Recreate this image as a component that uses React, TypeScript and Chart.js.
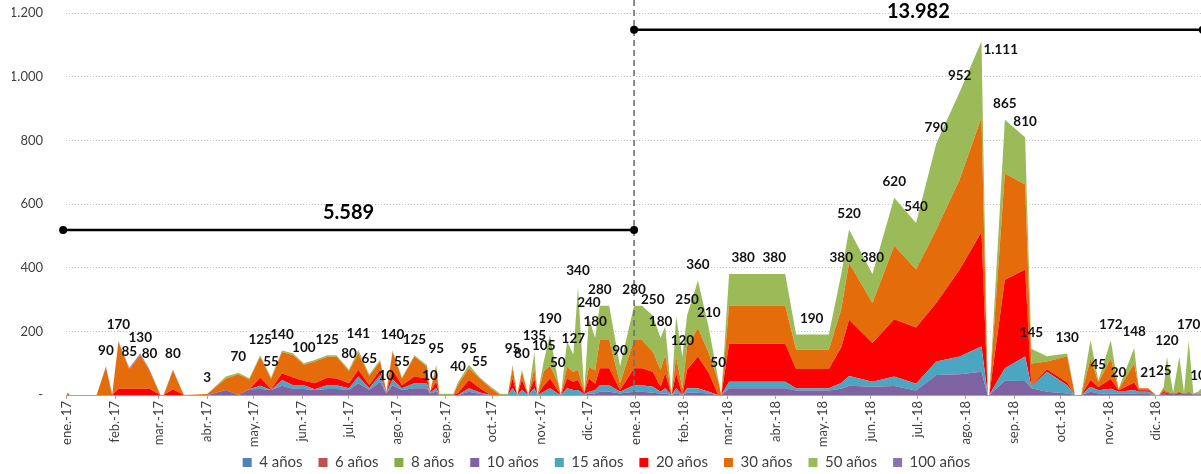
import React, { useEffect, useRef } from 'react';
import { Chart, registerables } from 'chart.js';

Chart.register(...registerables);

// ---------- data ----------
const seriesNames = ['4 años', '6 años', '8 años', '10 años', '15 años', '20 años', '30 años', '50 años', '100 años'];
const seriesColors = ['#4F81BD', '#C0504D', '#86AE48', '#7F62A1', '#4BA6C2', '#FF0000', '#E46C0A', '#9BBB59', '#8A74AE'];

// day number counted from 1 January 2017
const days = [
  0, 2, 19, 25, 29, 33, 40, 47, 53, 60, 62, 68, 75, 90, 102, 110, 117, 124, 131, 138,
  145, 152, 159, 167, 173, 181, 187, 194, 201, 205, 209, 215, 223, 231, 233, 237, 239, 248, 251, 258,
  265, 272, 278, 283, 286, 289, 292, 296, 300, 302, 306, 310, 315, 317, 321, 325, 328, 332, 335, 339,
  342, 348, 355, 364, 369, 376, 381, 384, 388, 391, 395, 398, 405, 412, 418, 420, 425, 434, 454, 461,
  468, 478, 489, 497, 502, 517, 531, 545, 558, 573, 587, 591, 592, 602, 615, 619, 629, 642, 647, 651,
  657, 662, 670, 675, 685, 688, 694, 699, 701, 704, 706, 710, 714, 717, 720, 723, 726, 729,
];

const y10 = [
  0, 0, 0, 0, 0, 0, 0, 0, 0, 0, 0, 0, 0, 0, 16, 0, 18, 19, 16, 29,
  20, 19, 16, 19, 19, 16, 37, 16, 42, 5, 31, 16, 21, 21, 5, 10, 0, 0, 0, 10,
  3, 0, 0, 0, 0, 0, 0, 0, 0, 0, 0, 0, 0, 0, 0, 0, 0, 0, 5, 5,
  10, 10, 5, 10, 10, 7, 5, 5, 0, 5, 0, 7, 7, 5, 0, 0, 21, 21, 21, 21,
  14, 14, 14, 20, 29, 26, 28, 14, 63, 65, 73, 0, 0, 45, 44, 21, 10, 5, 0, 0,
  10, 5, 5, 5, 5, 3, 3, 0, 0, 5, 3, 3, 3, 3, 3, 2, 2, 2,
];
const y15 = [
  0, 0, 0, 0, 0, 0, 0, 0, 0, 0, 0, 0, 0, 0, 0, 0, 0, 10, 0, 18,
  11, 12, 2, 12, 12, 5, 21, 5, 21, 0, 18, 5, 16, 16, 2, 11, 0, 0, 0, 11,
  5, 0, 0, 0, 21, 0, 16, 0, 21, 0, 10, 21, 5, 0, 21, 16, 16, 2, 5, 10,
  21, 21, 5, 21, 21, 19, 5, 16, 0, 16, 0, 14, 14, 5, 0, 0, 21, 21, 21, 21,
  7, 7, 7, 18, 31, 16, 30, 21, 42, 56, 79, 0, 0, 39, 77, 5, 63, 26, 0, 0,
  16, 10, 15, 5, 11, 7, 7, 0, 0, 0, 0, 0, 0, 0, 0, 0, 0, 0,
];
const y20 = [
  0, 0, 0, 0, 0, 20, 20, 20, 20, 0, 0, 18, 0, 0, 0, 0, 0, 26, 2, 21,
  24, 14, 19, 23, 21, 16, 21, 10, 16, 0, 30, 10, 21, 15, 3, 21, 0, 0, 6, 26,
  13, 0, 0, 0, 31, 0, 31, 0, 31, 0, 20, 31, 10, 0, 31, 26, 31, 3, 42, 20,
  53, 53, 6, 53, 53, 47, 16, 47, 0, 47, 0, 58, 100, 58, 0, 0, 119, 119, 119, 119,
  61, 61, 61, 112, 176, 121, 180, 177, 184, 273, 360, 0, 0, 278, 273, 2, 8, 8, 0, 0,
  21, 10, 30, 5, 23, 5, 5, 0, 0, 5, 3, 0, 3, 0, 2, 0, 0, 0,
];
const y30 = [
  8, 0, 0, 87, 0, 146, 61, 106, 56, 0, 0, 58, 0, 3, 36, 65, 31, 65, 32, 67,
  71, 50, 68, 66, 68, 38, 52, 29, 26, 5, 57, 21, 63, 37, 0, 44, 0, 0, 27, 37,
  31, 21, 0, 0, 32, 0, 26, 0, 32, 0, 45, 40, 25, 0, 37, 30, 32, 5, 37, 42,
  89, 89, 21, 89, 89, 63, 53, 58, 0, 53, 20, 73, 89, 63, 45, 0, 120, 120, 120, 120,
  60, 60, 60, 120, 179, 126, 231, 182, 231, 283, 360, 0, 0, 334, 267, 71, 24, 83, 0, 0,
  68, 15, 65, 3, 60, 6, 6, 0, 0, 10, 5, 2, 4, 2, 5, 1, 0, 3,
];
const y50 = [
  0, 0, 0, 0, 0, 0, 0, 0, 0, 0, 0, 0, 0, 0, 6, 5, 4, 5, 5, 5,
  5, 5, 5, 5, 5, 5, 10, 5, 5, 0, 4, 3, 4, 5, 0, 9, 4, 4, 7, 11,
  3, 5, 4, 3, 11, 0, 7, 0, 51, 0, 30, 98, 10, 0, 79, 55, 261, 0, 151, 103,
  107, 107, 53, 107, 107, 114, 101, 89, 0, 126, 100, 98, 150, 79, 5, 0, 99, 99, 99, 99,
  48, 48, 48, 110, 105, 91, 151, 146, 270, 275, 239, 0, 0, 169, 149, 46, 17, 8, 0, 0,
  58, 5, 57, 2, 49, 0, 0, 0, 0, 5, 109, 3, 110, 3, 160, 2, 8, 20,
];
const y100 = [
  0, 0, 0, 3, 0, 4, 4, 4, 4, 0, 0, 4, 0, 0, 0, 0, 0, 0, 0, 0,
  0, 0, 0, 0, 0, 0, 0, 0, 0, 0, 0, 0, 0, 0, 0, 0, 0, 0, 0, 0,
  0, 0, 0, 0, 0, 0, 0, 0, 0, 0, 0, 0, 0, 0, 0, 0, 0, 0, 0, 0,
  0, 0, 0, 0, 0, 0, 0, 0, 0, 0, 0, 0, 0, 0, 0, 0, 0, 0, 0, 0,
  0, 0, 0, 0, 0, 0, 0, 0, 0, 0, 0, 0, 0, 0, 0, 0, 0, 0, 0, 0,
  0, 0, 0, 0, 0, 0, 0, 0, 0, 0, 0, 0, 0, 0, 0, 0, 0, 0,
];
// 4, 6 and 8 años carry no visible volume in the picture (all zero)
const yZero = new Array(days.length).fill(0);

// days whose stacked total carries a data label
const labelDays = [
  25, 33, 40, 47, 53, 68, 90, 110, 124, 131, 138, 152, 167, 181, 187, 194, 205, 209, 215, 223,
  233, 237, 251, 258, 265, 286, 292, 300, 306, 310, 315, 325, 328, 335, 339, 342, 355,
  364, 376, 381, 395, 398, 405, 412, 418, 434, 454, 478, 497, 502, 517, 531, 545, 558, 573,
  587, 602, 615, 619, 642, 662, 670, 675, 685, 694, 704, 706, 720, 726,
];

// x-axis tick labels
const monthNames = ['ene.', 'feb.', 'mar.', 'abr.', 'may.', 'jun.', 'jul.', 'ago.', 'sep.', 'oct.', 'nov.', 'dic.'];
const tickYears = [2017, 2018];

// yearly totals (bracket lines)
const periodStart = [-2.5, 364];
const periodEnd = [364, 729];
const periodLevel = [518, 1147];
const periodTotals = [5589, 13982];
const splitDay = 364;

// ---------- helpers ----------
const DAY0 = Date.UTC(2017, 0, 1);
const monthStartDays: number[] = [];
const monthLabels: string[] = [];
tickYears.forEach((yr) => {
  monthNames.forEach((m, mi) => {
    monthStartDays.push(Math.round((Date.UTC(yr, mi, 1) - DAY0) / 86400000));
    monthLabels.push(`${m}-${String(yr).slice(2)}`);
  });
});

const fmt = (n: number) => String(Math.round(n)).replace(/\B(?=(\d{3})+(?!\d))/g, '.');

const seriesValues = [yZero, yZero, yZero, y10, y15, y20, y30, y50, y100];

const overlayPlugin = {
  id: 'overlay',
  afterDatasetsDraw(chart: any) {
    const { ctx, chartArea } = chart;
    const xs = chart.scales.x;
    const ys = chart.scales.y;
    ctx.save();
    // split line
    const sx = xs.getPixelForValue(splitDay);
    ctx.strokeStyle = '#707070';
    ctx.lineWidth = 1.6;
    ctx.setLineDash([6, 4]);
    ctx.beginPath();
    ctx.moveTo(sx, 0);
    ctx.lineTo(sx, chartArea.bottom);
    ctx.stroke();
    ctx.setLineDash([]);

    // period lines with totals
    periodStart.forEach((s, i) => {
      const x0 = xs.getPixelForValue(s);
      const x1 = xs.getPixelForValue(periodEnd[i]);
      const py = ys.getPixelForValue(periodLevel[i]);
      ctx.strokeStyle = '#000';
      ctx.fillStyle = '#000';
      ctx.lineWidth = 2.5;
      ctx.beginPath();
      ctx.moveTo(x0, py);
      ctx.lineTo(x1, py);
      ctx.stroke();
      [x0, x1].forEach((px) => {
        ctx.beginPath();
        ctx.arc(px, py, 4, 0, Math.PI * 2);
        ctx.fill();
      });
      ctx.font = 'bold 20px Lato';
      ctx.textAlign = 'center';
      ctx.textBaseline = 'middle';
      ctx.fillText(fmt(periodTotals[i]), (x0 + x1) / 2, py - 18);
    });

    // data labels (stacked totals)
    const topLine = ys.getPixelForValue(periodLevel[1]);
    ctx.font = 'bold 13.5px Lato';
    ctx.fillStyle = '#111';
    ctx.textBaseline = 'middle';
    labelDays.forEach((d) => {
      const i = days.indexOf(d);
      if (i < 0) return;
      let total = 0;
      seriesValues.forEach((arr) => { total += arr[i]; });
      const px = xs.getPixelForValue(d);
      const py = ys.getPixelForValue(total);
      if (py - 24 < topLine + 4) {
        ctx.textAlign = 'left';
        ctx.fillText(fmt(total), px + 2, py + 8);
      } else {
        ctx.textAlign = 'center';
        ctx.fillText(fmt(total), px, py - 16);
      }
    });
    ctx.restore();
  },
};

export default function App() {
  const ref = useRef<HTMLCanvasElement | null>(null);

  useEffect(() => {
    if (!ref.current) return;
    const datasets = seriesNames.map((name, si) => ({
      label: name,
      data: days.map((d, i) => ({ x: d, y: seriesValues[si][i] })),
      backgroundColor: seriesColors[si],
      borderColor: seriesColors[si],
      borderWidth: 0,
      pointRadius: 0,
      pointHoverRadius: 0,
      pointHitRadius: 0,
      tension: 0,
      fill: si === 0 ? 'origin' : '-1',
    }));

    const chart = new Chart(ref.current, {
      type: 'line',
      data: { datasets },
      options: {
        responsive: false,
        animation: false,
        devicePixelRatio: 1,
        layout: { padding: { top: 13, left: 12, right: 0, bottom: 0 } },
        plugins: {
          legend: {
            position: 'bottom',
            labels: {
              boxWidth: 9,
              boxHeight: 9,
              padding: 16,
              color: '#404040',
              font: { family: 'Lato', size: 15 },
            },
          },
          tooltip: { enabled: false },
        },
        scales: {
          x: {
            type: 'linear',
            min: -0.64,
            max: 727.9,
            afterBuildTicks: (scale: any) => {
              scale.ticks = monthStartDays.map((v) => ({ value: v }));
            },
            afterFit: (scale: any) => {
              scale.height = 44;
              // let the vertical month labels run past the (short) axis box
              scale._computeLabelArea = () => undefined;
            },
            ticks: {
              autoSkip: false,
              minRotation: 90,
              maxRotation: 90,
              padding: 2,
              color: '#404040',
              font: { family: 'Lato', size: 13 },
              callback: (_v: any, index: number) => monthLabels[index],
            },
            grid: { display: true, drawOnChartArea: false, drawTicks: true, tickLength: 4, color: '#A6A6A6' },
            border: { display: true, color: '#A6A6A6', width: 1 },
          },
          y: {
            stacked: true,
            min: 0,
            max: 1200,
            afterFit: (scale: any) => {
              scale.width = 54;
            },
            ticks: {
              stepSize: 200,
              padding: 3,
              color: '#404040',
              font: { family: 'Lato', size: 13 },
              callback: (v: any) => (Number(v) === 0 ? '-' : fmt(Number(v))),
            },
            grid: { color: '#C4C4C4', drawTicks: true, tickLength: 20, tickColor: 'rgba(0,0,0,0)' },
            border: { display: false, dash: [1, 2] },
          },
        },
      },
      plugins: [overlayPlugin],
    } as any);

    return () => chart.destroy();
  }, []);

  return (
    <div style={{ position: 'fixed', left: 0, top: 0, width: 1201, height: 474, overflow: 'hidden', background: '#fff' }}>
      <canvas ref={ref} width={1201} height={480} style={{ display: 'block', width: 1201, height: 480 }} />
    </div>
  );
}
